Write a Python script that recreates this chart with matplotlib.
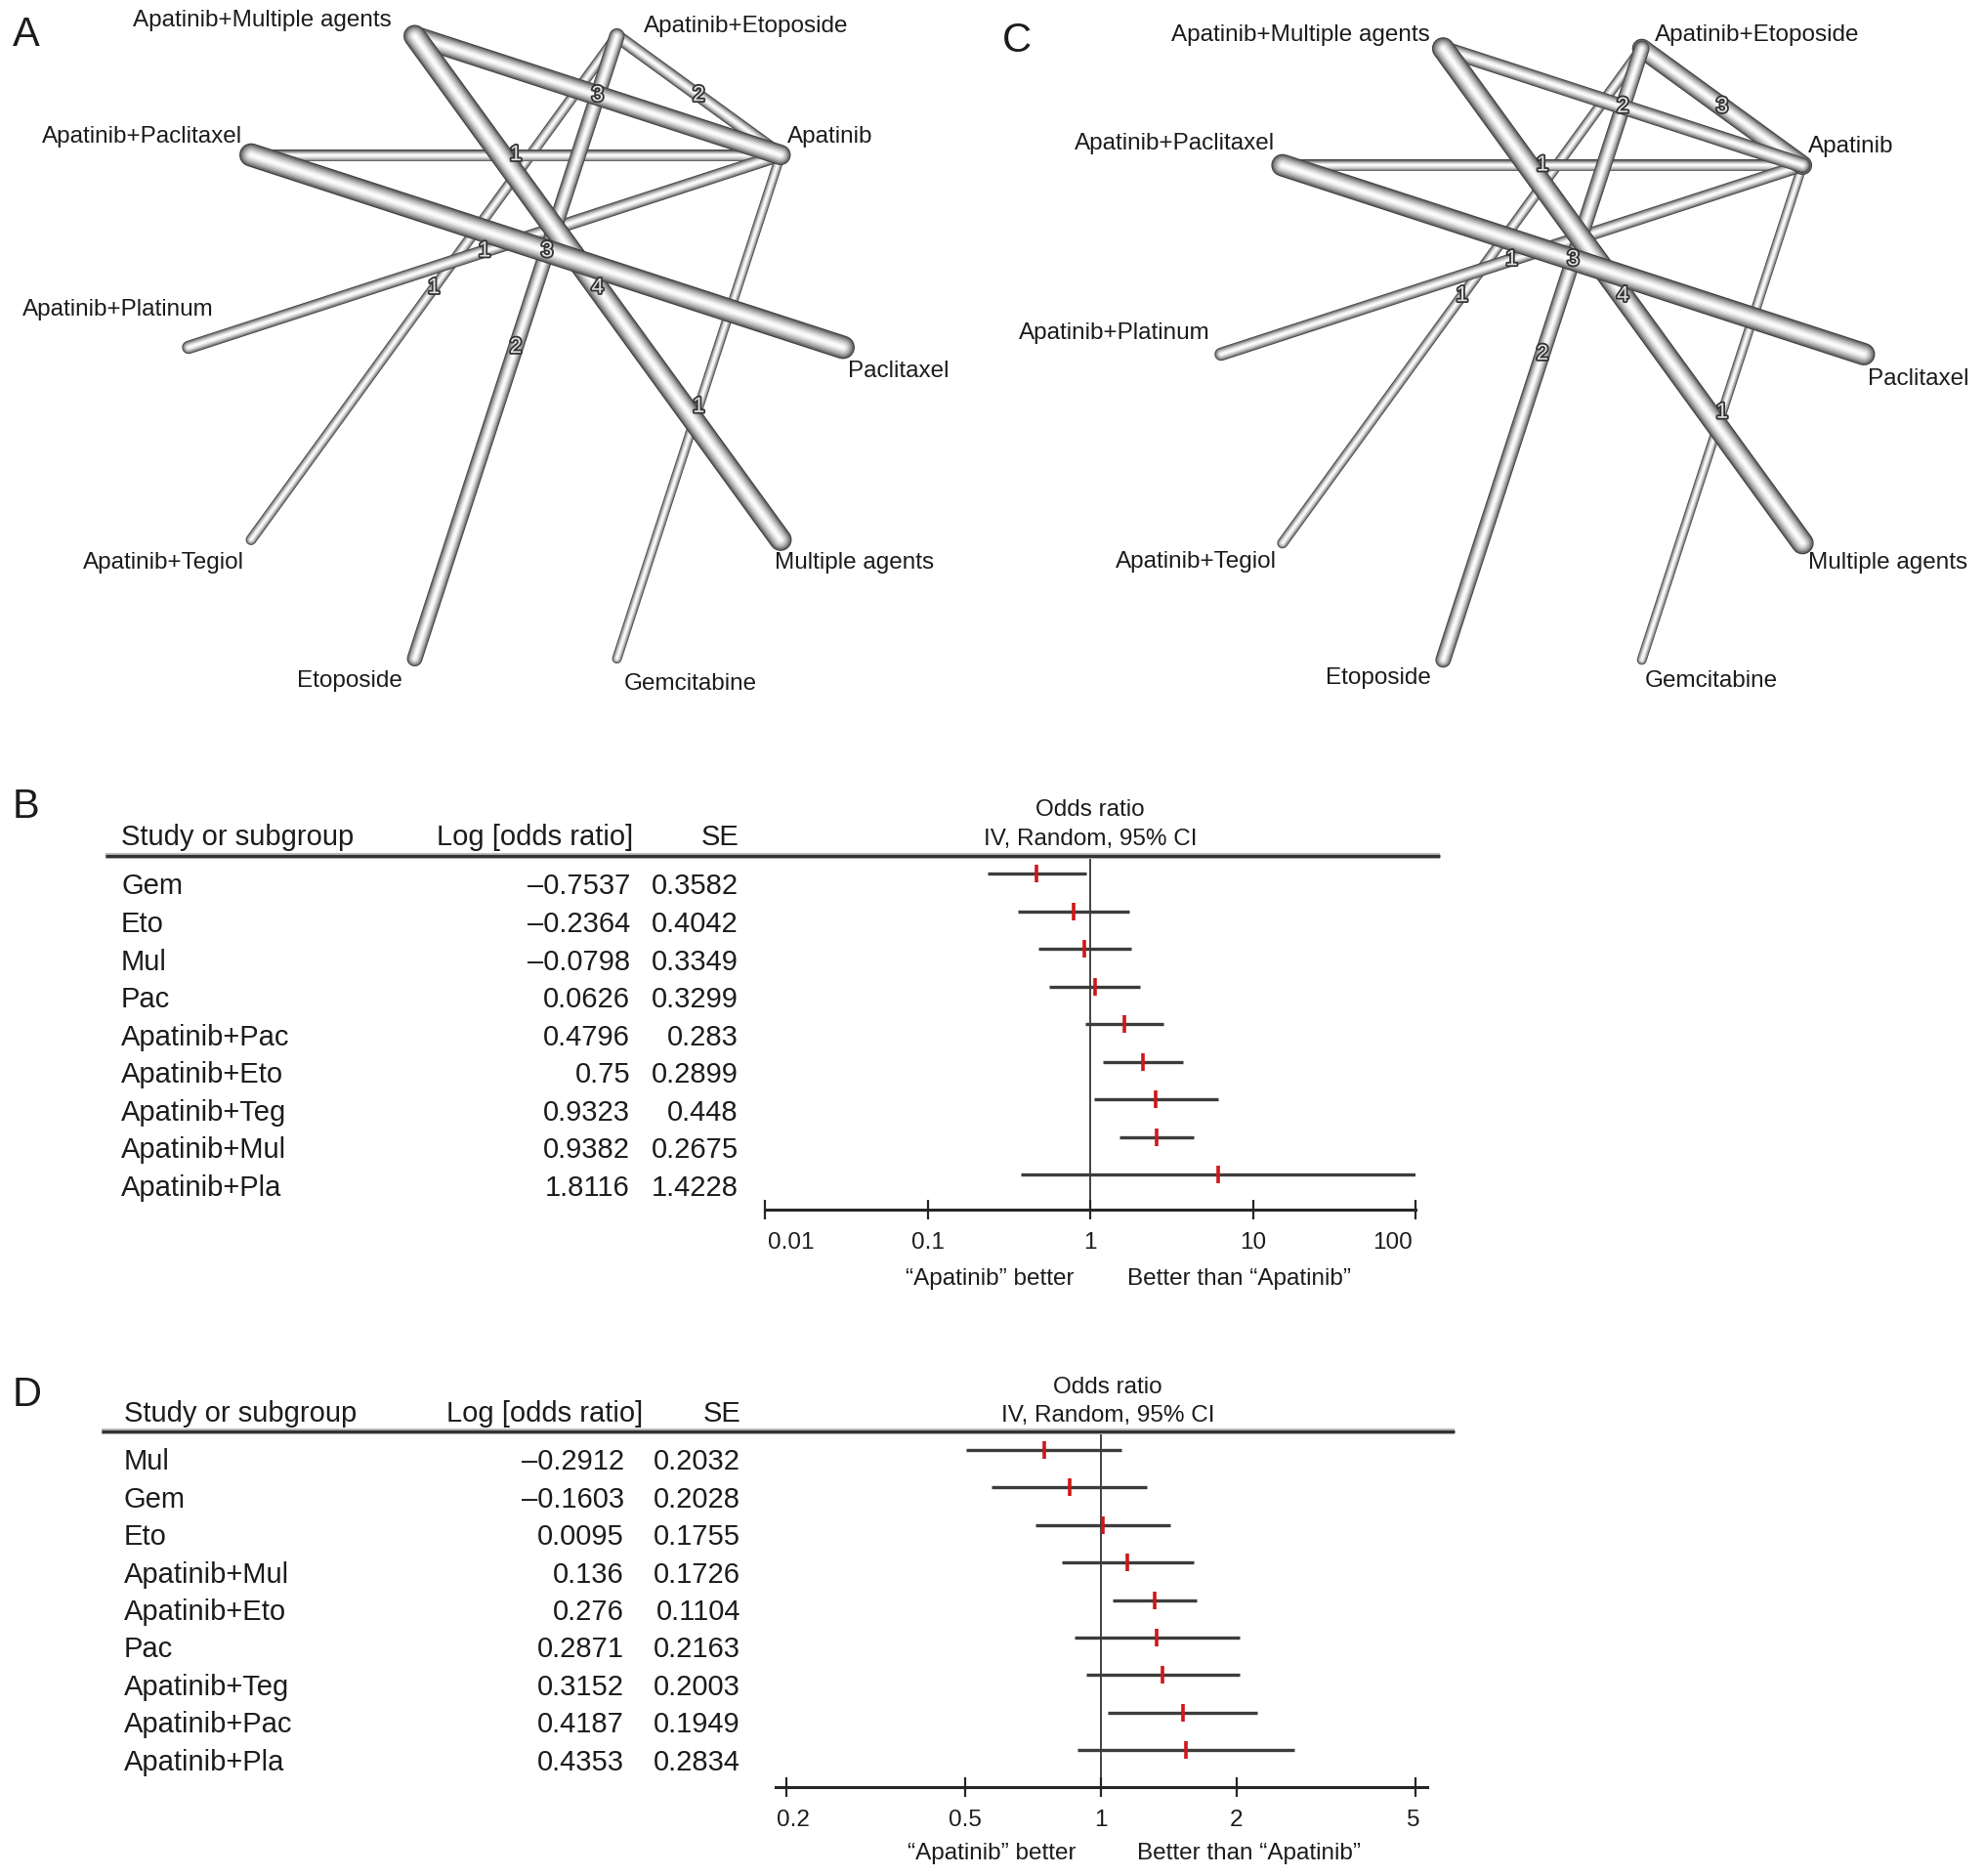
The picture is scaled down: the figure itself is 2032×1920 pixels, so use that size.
import numpy as np
import matplotlib
matplotlib.use('Agg')
import matplotlib.pyplot as plt
import matplotlib.patheffects as pe
import matplotlib.transforms as mtransforms
from matplotlib.ticker import NullLocator

plt.rcParams['font.family'] = ['Liberation Sans', 'DejaVu Sans']

W, H = 2032, 1920

##############################################################################
# Network data (nodes in circle order, clockwise from the right)
treatments = ['Paclitaxel', 'Multiple agents', 'Gemcitabine', 'Etoposide',
              'Apatinib+Tegiol', 'Apatinib+Platinum', 'Apatinib+Paclitaxel',
              'Apatinib+Multiple agents', 'Apatinib+Etoposide', 'Apatinib']

edges = [('Apatinib', 'Gemcitabine'),
         ('Apatinib+Etoposide', 'Apatinib+Tegiol'),
         ('Apatinib+Paclitaxel', 'Apatinib'),
         ('Apatinib+Platinum', 'Apatinib'),
         ('Apatinib+Etoposide', 'Apatinib'),
         ('Apatinib+Etoposide', 'Etoposide'),
         ('Apatinib+Multiple agents', 'Apatinib'),
         ('Apatinib+Multiple agents', 'Multiple agents'),
         ('Apatinib+Paclitaxel', 'Paclitaxel')]

studies_a = [1, 1, 1, 1, 2, 2, 3, 4, 3]
studies_c = [1, 1, 1, 1, 3, 2, 2, 4, 3]

# edge thickness (pixels)
thick_a = [10, 11, 12, 13.5, 13.5, 16, 21, 23, 24]
thick_c = [10, 11, 12, 13.5, 20, 16, 16, 23, 23]

# Forest plot B
names_b = ['Gem', 'Eto', 'Mul', 'Pac', 'Apatinib+Pac', 'Apatinib+Eto',
           'Apatinib+Teg', 'Apatinib+Mul', 'Apatinib+Pla']
logor_b = [-0.7537, -0.2364, -0.0798, 0.0626, 0.4796, 0.75, 0.9323, 0.9382, 1.8116]
se_b = [0.3582, 0.4042, 0.3349, 0.3299, 0.283, 0.2899, 0.448, 0.2675, 1.4228]
ticks_b = [0.01, 0.1, 1, 10, 100]
ticklab_b = ['0.01', '0.1', '1', '10', '100']

# Forest plot D
names_d = ['Mul', 'Gem', 'Eto', 'Apatinib+Mul', 'Apatinib+Eto', 'Pac',
           'Apatinib+Teg', 'Apatinib+Pac', 'Apatinib+Pla']
logor_d = [-0.2912, -0.1603, 0.0095, 0.136, 0.276, 0.2871, 0.3152, 0.4187, 0.4353]
se_d = [0.2032, 0.2028, 0.1755, 0.1726, 0.1104, 0.2163, 0.2003, 0.1949, 0.2834]
ticks_d = [0.2, 0.5, 1, 2, 5]
ticklab_d = ['0.2', '0.5', '1', '2', '5']

##############################################################################

fig = plt.figure(figsize=(W / 100, H / 100), dpi=100)

PX2PT = 72.0 / 100.0
TXT = '#1c1c1c'

tube_frac = [1.0, 0.88, 0.74, 0.60, 0.45, 0.30, 0.15]
tube_gray = [0.27, 0.45, 0.60, 0.72, 0.83, 0.92, 0.98]


def draw_network(cx, cy, r, studies, thick, offsets):
    ax = fig.add_axes([(cx - r) / W, 1 - (cy + r) / H, 2 * r / W, 2 * r / H])
    ax.set_xlim(-1, 1)
    ax.set_ylim(1, -1)
    ax.axis('off')
    ang = np.deg2rad(36.0 * np.arange(len(treatments)))
    pos = {t: (np.cos(a), np.sin(a)) for t, a in zip(treatments, ang)}
    for (u, v), w in zip(edges, thick):
        xs = [pos[u][0], pos[v][0]]
        ys = [pos[u][1], pos[v][1]]
        for f, g in zip(tube_frac, tube_gray):
            ax.plot(xs, ys, color=str(g), lw=w * PX2PT * f,
                    solid_capstyle='round', clip_on=False)
    for (u, v), n in zip(edges, studies):
        mx = (pos[u][0] + pos[v][0]) / 2
        my = (pos[u][1] + pos[v][1]) / 2
        ax.text(mx, my, str(n), ha='center', va='center', fontsize=16,
                color='#e2e2e2', zorder=5,
                path_effects=[pe.withStroke(linewidth=2.6, foreground='#333333')])
    for t, (dx, dy, ha) in zip(treatments, offsets):
        ax.annotate(t, xy=pos[t], xytext=(dx, dy), textcoords='offset pixels',
                    ha=ha, va='center', fontsize=17.5, color=TXT)
    return ax


off_a = [(5, -25, 'left'), (-6, -24, 'left'), (7, -26, 'left'), (-13, -23, 'right'),
         (-7, -24, 'right'), (26, 39, 'right'), (-9, 19, 'right'),
         (-24, 16, 'right'), (27, 10, 'left'), (7, 19, 'left')]
off_c = [(4, -26, 'left'), (6, -20, 'left'), (3, -22, 'left'), (-12, -19, 'right'),
         (-6, -19, 'right'), (-11, 21, 'right'), (-8, 22, 'right'),
         (-14, 14, 'right'), (13, 14, 'left'), (6, 19, 'left')]

draw_network(528, 355.5, 335, studies_a, thick_a, off_a)
draw_network(1579, 362.5, 329, studies_c, thick_c, off_c)


def fmt(v):
    return f'{v:g}'.replace('-', '\u2013')


def forest(ax_x0, ax_x1, ax_top, ax_bot, row0, step, xlim, ticks, ticklabels,
           names, logor, se, name_x, lor_x, se_x, head_lor_x, head_se_x, or_cx,
           line_x0, line_x1, foot_l, foot_r, base_row, base_head, base_or,
           base_foot, end_align):
    ax = fig.add_axes([ax_x0 / W, 1 - ax_bot / H, (ax_x1 - ax_x0) / W,
                       (ax_bot - ax_top) / H])

    def yd(px):
        return (px - row0) / step

    logor = np.array(logor)
    se = np.array(se)
    rows = np.arange(len(names))
    odds = np.exp(logor)
    lo = np.exp(logor - 1.96 * se)
    hi = np.exp(logor + 1.96 * se)

    ax.set_xscale('log')
    ax.set_xlim(*xlim)
    ax.set_ylim(yd(ax_bot), yd(ax_top))
    ax.axvline(1, color='#111111', lw=1.1, zorder=1)
    ax.hlines(rows, lo, hi, color='#3c3c3c', lw=2.4, zorder=2)
    ax.plot(odds, rows, ls='none', marker='|', ms=13.5, mew=2.6,
            color='#d0161b', zorder=3)

    for s in ['top', 'left', 'right']:
        ax.spines[s].set_visible(False)
    ax.spines['bottom'].set_linewidth(2.2)
    ax.spines['bottom'].set_color('#262626')
    ax.set_yticks([])
    ax.set_xticks(ticks)
    ax.set_xticklabels(ticklabels)
    ax.xaxis.set_minor_locator(NullLocator())
    ax.tick_params(axis='x', direction='inout', length=14, width=1.6,
                   color='#262626', labelsize=17.5, labelcolor=TXT, pad=9.5)
    labs = ax.get_xticklabels()
    (ha0, dx0), (ha1, dx1) = end_align
    labs[0].set_ha(ha0)
    labs[-1].set_ha(ha1)
    labs[0].set_transform(labs[0].get_transform() +
                          mtransforms.ScaledTranslation(dx0 / 100, 0, fig.dpi_scale_trans))
    labs[-1].set_transform(labs[-1].get_transform() +
                           mtransforms.ScaledTranslation(dx1 / 100, 0, fig.dpi_scale_trans))
    ax.patch.set_alpha(0)

    tr = mtransforms.blended_transform_factory(fig.transFigure, ax.transData)
    y_top = yd(ax_top)
    ax.plot([line_x0 / W, line_x1 / W], [y_top, y_top], transform=tr,
            color='#bcbcbc', lw=4.4, clip_on=False, solid_capstyle='butt')
    ax.plot([line_x0 / W, line_x1 / W], [y_top, y_top], transform=tr,
            color='#333333', lw=2.3, clip_on=False, solid_capstyle='butt')

    for i, (n, l, s) in enumerate(zip(names, logor, se)):
        yb = yd(row0 + step * i + base_row)
        ax.text(name_x / W, yb, n, transform=tr, ha='left', va='baseline',
                fontsize=21, color=TXT)
        ax.text(lor_x / W, yb, fmt(l), transform=tr, ha='right', va='baseline',
                fontsize=21, color=TXT)
        ax.text(se_x / W, yb, fmt(s), transform=tr, ha='right', va='baseline',
                fontsize=21, color=TXT)

    yh = yd(base_head)
    ax.text(name_x / W, yh, 'Study or subgroup', transform=tr, ha='left',
            va='baseline', fontsize=21, color=TXT)
    ax.text(head_lor_x / W, yh, 'Log [odds ratio]', transform=tr, ha='right',
            va='baseline', fontsize=21, color=TXT)
    ax.text(head_se_x / W, yh, 'SE', transform=tr, ha='right',
            va='baseline', fontsize=21, color=TXT)
    ax.text(or_cx / W, yd(base_or), 'Odds ratio', transform=tr, ha='center',
            va='baseline', fontsize=17.5, color=TXT)
    ax.text(or_cx / W, yh, 'IV, Random, 95% CI', transform=tr, ha='center',
            va='baseline', fontsize=17.5, color=TXT)
    yf = yd(base_foot)
    ax.text(foot_l / W, yf, '\u201cApatinib\u201d better', transform=tr,
            ha='center', va='baseline', fontsize=17.5, color=TXT)
    ax.text(foot_r / W, yf, 'Better than \u201cApatinib\u201d', transform=tr,
            ha='center', va='baseline', fontsize=17.5, color=TXT)
    return ax


forest(783, 1449, 876, 1238, 894, 38.56, (0.01, 100), ticks_b, ticklab_b,
       names_b, logor_b, se_b, 124, 645, 756, 648, 757, 1116, 108, 1474,
       1013.5, 1268.5, 21.4, 865, 835, 1315,
       (('left', 3), ('right', -3)))

forest(794, 1461, 1465, 1829, 1484, 38.4, (0.1893, 5.31), ticks_d, ticklab_d,
       names_d, logor_d, se_d, 127, 639, 758, 658, 759, 1134, 104, 1489,
       1015.5, 1279, 20.4, 1455, 1426, 1903,
       (('center', 7), ('center', -2)))

# panel letters
for letter, x, y in [('A', 13, 47), ('C', 1026, 53), ('B', 13, 837), ('D', 13, 1439)]:
    fig.text(x / W, 1 - y / H, letter, ha='left', va='baseline', fontsize=30,
             color=TXT)

fig.savefig('out.png', dpi=100)
